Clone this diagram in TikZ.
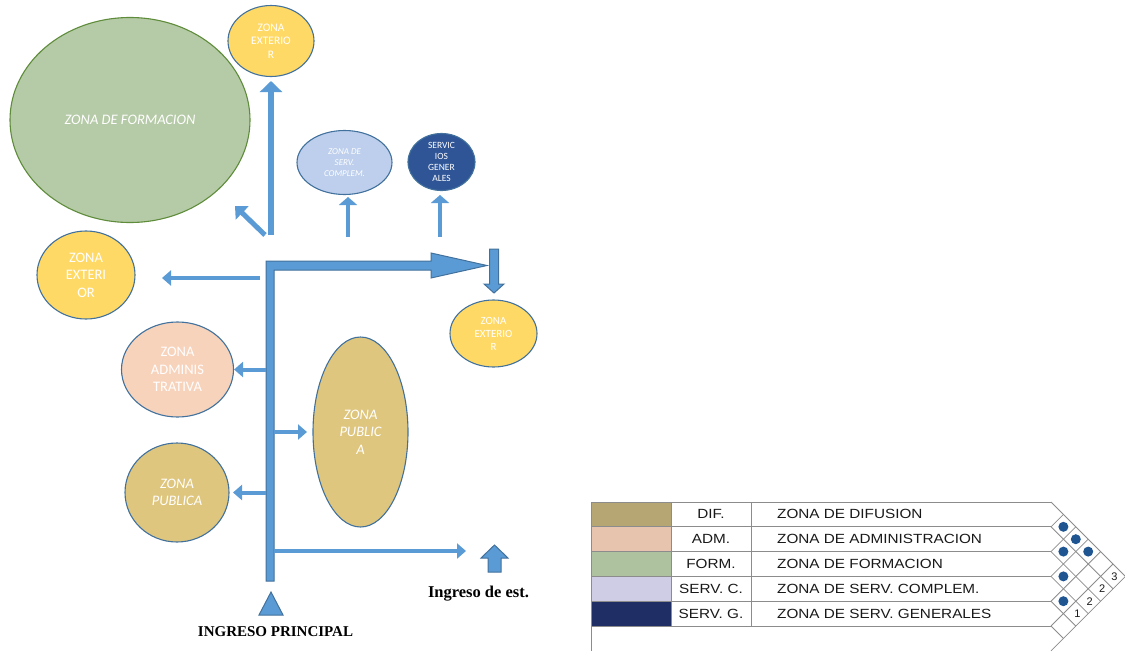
\documentclass[tikz,border=0pt]{standalone}
\usepackage{fontspec}
\setmainfont{Carlito}
\newfontfamily\legendfont[FakeStretch=1.15]{Liberation Sans}
\newfontfamily\numfont{Liberation Sans}
\newfontfamily\titlefont{Liberation Serif}
\usetikzlibrary{shapes.geometric,arrows.meta}
\newcommand\zfbig{\fontsize{14.5}{17.5}\selectfont}
\definecolor{cArrow}{HTML}{5B9BD5}
\definecolor{cArrowLine}{HTML}{41719C}
\definecolor{cYellow}{HTML}{FFD966}
\definecolor{cGreen}{HTML}{B5CAA6}
\definecolor{cGreenLine}{HTML}{5E8C3A}
\definecolor{cLightBlue}{HTML}{BDCFEC}
\definecolor{cDarkBlue}{HTML}{2F5597}
\definecolor{cPeach}{HTML}{F8D3BC}
\definecolor{cKhaki}{HTML}{DFC67E}
\definecolor{cEllLine}{HTML}{41719C}
\definecolor{lDif}{HTML}{B5A673}
\definecolor{lAdm}{HTML}{E6C4AD}
\definecolor{lForm}{HTML}{AFC29F}
\definecolor{lServC}{HTML}{CFCDE6}
\definecolor{lServG}{HTML}{1F2F66}
\definecolor{lGrid}{HTML}{8C8C8C}
\definecolor{lDot}{HTML}{1F5590}
\tikzset{
  zone/.style={ellipse, draw=cEllLine, line width=1.1pt, inner sep=0pt, text=white, align=center},
  blockarrow/.style={fill=cArrow, draw=cArrowLine, line width=1pt, line join=miter},
  sidearrow/.style={draw=cArrow, line width=4pt, -{Triangle[length=9pt,width=15pt]}},
  smallup/.style={draw=cArrow, line width=3.5pt, -{Triangle[length=8pt,width=18pt]}},
  bigup/.style={draw=cArrow, line width=6pt, -{Triangle[length=11pt,width=22pt]}},
  diagarrow/.style={draw=cArrow, line width=5pt, -{Triangle[length=10pt,width=18pt]}},
  legtxt/.style={inner sep=0pt, text=black!90, font=\legendfont\fontsize{13.3}{16}\selectfont},
  gridline/.style={draw=lGrid, line width=0.8pt},
  dotcell/.style={circle, fill=lDot, minimum size=10pt, inner sep=0pt},
  numcell/.style={inner sep=0pt, text=black!90, font=\numfont\fontsize{11}{12}\selectfont},
  titletxt/.style={inner sep=0pt, text=black, font=\titlefont\bfseries\fontsize{15}{18}\selectfont}
}
\begin{document}
\begin{tikzpicture}[x=1pt,y=-1pt]
\useasboundingbox (0,0) rectangle (1125,651);

% ---------- zones ----------
\node[zone, draw=cGreenLine, fill=cGreen, minimum width=240pt, minimum height=205pt, font=\zfbig\itshape] (form) at (130,120) {ZONA DE FORMACION};
\node[zone, fill=cYellow, minimum width=86pt, minimum height=71pt, font=\fontsize{11.5}{13.5}\selectfont] (extT) at (271,41) {ZONA\\EXTERIO\\R};
\node[zone, fill=cLightBlue, minimum width=95pt, minimum height=64pt, font=\fontsize{9}{10.8}\selectfont\itshape] (servc) at (344.5,162.5) {ZONA DE\\SERV.\\COMPLEM.};
\node[zone, fill=cDarkBlue, minimum width=67pt, minimum height=57pt, font=\fontsize{9.5}{11.1}\selectfont] (servg) at (441.5,162) {SERVIC\\IOS\\GENER\\ALES};
\node[zone, fill=cYellow, minimum width=98pt, minimum height=88pt, font=\zfbig] (extL) at (86,275) {ZONA\\EXTERI\\OR};
\node[zone, fill=cPeach, minimum width=112pt, minimum height=95pt, font=\zfbig] (adm) at (177.5,369.5) {ZONA\\ADMINIS\\TRATIVA};
\node[zone, fill=cKhaki, minimum width=95pt, minimum height=190pt, font=\zfbig\itshape] (pubB) at (360.5,432) {ZONA\\PUBLIC\\A};
\node[zone, fill=cKhaki, minimum width=104pt, minimum height=99pt, font=\zfbig\itshape] (pubS) at (177,492.5) {ZONA\\PUBLICA};
\node[zone, fill=cYellow, minimum width=87pt, minimum height=67pt, font=\fontsize{11}{13}\selectfont] (extR) at (493.5,333.5) {ZONA\\EXTERIO\\R};

% ---------- main bent arrow ----------
\draw[blockarrow] (266,581) -- (266,261) -- (431,261) -- (431,253) -- (487,265.5) -- (431,278) -- (431,270) -- (274,270) -- (274,581) -- cycle;

% ---------- connector ends ----------
\coordinate (jT) at (271,235); \coordinate (tT) at (271,81);
\coordinate (jD) at (265,235); \coordinate (tD) at (235,206);
\coordinate (jC) at (348,237); \coordinate (tC) at (348,197);
\coordinate (jG) at (440,237); \coordinate (tG) at (440,195);
\coordinate (jL) at (260,278); \coordinate (tL) at (162,278);
\coordinate (jA) at (266,369.5);
\coordinate (jP) at (274,432);  \coordinate (tP) at (307,432);
\coordinate (jS) at (266,492.5); \coordinate (tS) at (233,492.5);
\coordinate (jB) at (274,551);  \coordinate (tB) at (466,551);

\draw[bigup] (jT) -- (tT);
\draw[diagarrow] (jD) -- (tD);
\draw[smallup] (jC) -- (tC);
\draw[smallup] (jG) -- (tG);
\draw[sidearrow] (jL) -- (tL);
\draw[sidearrow] (jA) -- (adm.east);
\draw[sidearrow] (jP) -- (tP);
\draw[sidearrow] (jS) -- (tS);
\draw[sidearrow] (jB) -- (tB);

% down block arrow to right exterior zone
\draw[blockarrow] (489.5,249) -- (498.5,249) -- (498.5,284) -- (504,284) -- (494,293) -- (484,284) -- (489.5,284) -- cycle;
% small block up arrow
\draw[blockarrow] (494.5,545) -- (508,558) -- (501,558) -- (501,572) -- (488,572) -- (488,558) -- (481,558) -- cycle;
% entrance triangle
\draw[blockarrow] (271,592) -- (283,615) -- (259,615) -- cycle;

\node[titletxt] (ingP) at (275.5,632) {INGRESO PRINCIPAL};
\node[titletxt, font=\titlefont\bfseries\fontsize{16.5}{19}\selectfont] (ingE) at (478.5,594) {Ingreso de est.};

% ---------- legend ----------
\foreach \i/\col/\ab/\nm in {1/lDif/DIF./ZONA DE DIFUSION, 2/lAdm/ADM./ZONA DE ADMINISTRACION, 3/lForm/FORM./ZONA DE FORMACION, 4/lServC/SERV. C./ZONA DE SERV. COMPLEM., 5/lServG/SERV. G./ZONA DE SERV. GENERALES}{
  \pgfmathsetmacro\ya{502+24.8*(\i-1)}
  \pgfmathsetmacro\yb{502+24.8*\i}
  \pgfmathsetmacro\yc{502+24.8*(\i-0.5)}
  \fill[\col] (591,\ya) rectangle (671,\yb);
  \node[legtxt] (ab\i) at (711,\yc) {\ab};
  \node[legtxt, anchor=west] (nm\i) at (777,\yc) {\nm};
}
\foreach \k in {0,...,5}{
  \pgfmathsetmacro\bk{502+24.8*\k}
  \draw[gridline] (591,\bk) -- (1051,\bk);
}
\draw[gridline] (591,502) -- (591,651);
\draw[gridline] (671,502) -- (671,626);
\draw[gridline] (751,502) -- (751,626);
\foreach \k in {0,...,6}{
  \pgfmathsetmacro\bk{502+24.8*\k}
  \pgfmathsetmacro\dd{(650.8-\bk)/2}
  \pgfmathsetmacro\uu{(\bk-502)/2}
  \draw[gridline] (1051,\bk) -- ++(\dd,\dd);
  \draw[gridline] (1051,\bk) -- ++(\uu,-\uu);
}
\foreach \i/\j in {1/2,2/3,3/4,4/5,1/3,1/4}{
  \pgfmathsetmacro\cx{1051+(\j-\i)*12.4}
  \pgfmathsetmacro\cy{502+12.4*(\i+\j-1)}
  \node[dotcell] (dot\i\j) at (\cx,\cy) {};
}
\foreach \i/\j/\v in {4/6/1,3/6/2,2/6/2,1/6/3}{
  \pgfmathsetmacro\cx{1051+(\j-\i)*12.4+1.5}
  \pgfmathsetmacro\cy{502+12.4*(\i+\j-1)}
  \node[numcell] (num\i\j) at (\cx,\cy) {\v};
}
\end{tikzpicture}
\end{document}
